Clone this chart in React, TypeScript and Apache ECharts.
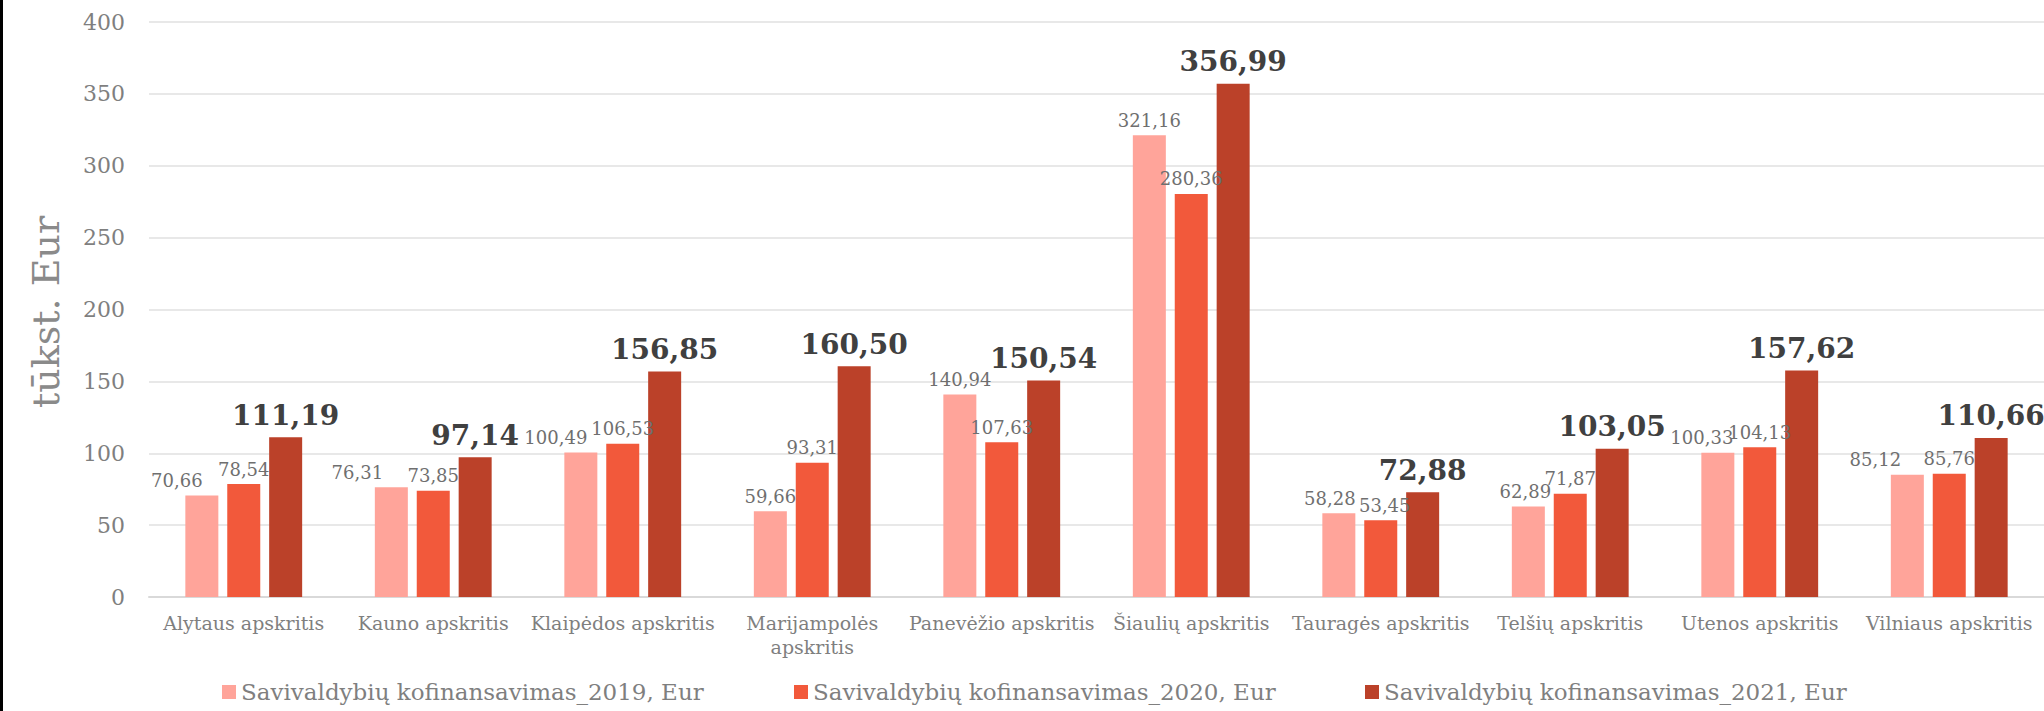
import React, { useEffect, useRef } from "react";
import * as echarts from "echarts";

const CATEGORIES = [
  "Alytaus apskritis",
  "Kauno apskritis",
  "Klaipėdos apskritis",
  "Marijampolės apskritis",
  "Panevėžio apskritis",
  "Šiaulių apskritis",
  "Tauragės apskritis",
  "Telšių apskritis",
  "Utenos apskritis",
  "Vilniaus apskritis",
];

const SERIES_NAMES = [
  "Savivaldybių kofinansavimas_2019, Eur",
  "Savivaldybių kofinansavimas_2020, Eur",
  "Savivaldybių kofinansavimas_2021, Eur",
];

const VALUES_2019 = [70.66, 76.31, 100.49, 59.66, 140.94, 321.16, 58.28, 62.89, 100.33, 85.12];
const VALUES_2020 = [78.54, 73.85, 106.53, 93.31, 107.63, 280.36, 53.45, 71.87, 104.13, 85.76];
const VALUES_2021 = [111.19, 97.14, 156.85, 160.5, 150.54, 356.99, 72.88, 103.05, 157.62, 110.66];

const Y_TICKS = { min: 0, max: 400, interval: 50 };
const Y_TITLE = "tūkst. Eur";

// label style tweaks (horizontal nudges of some 2019 / 2020 labels, as in the reference)
const LABEL_SHIFT_2019 = [-25, -34, -25, 0, 0, 0, -9, -3, -16, -32];
const LABEL_SHIFT_2020 = [0, 0, 0, 0, 0, 0, 4, 0, 0, 0];

const COLORS = ["#FFA49A", "#F2593B", "#BB4129"];
const FONT = "'DejaVu Serif', Georgia, serif";

const fmt = (v: number) => v.toFixed(2).replace(".", ",");

export default function App() {
  const ref = useRef<HTMLDivElement>(null);

  useEffect(() => {
    if (!ref.current) return;
    const chart = echarts.init(ref.current, null, { renderer: "svg" });

    const smallLabel = {
      show: true,
      position: "top",
      distance: 6,
      fontFamily: FONT,
      fontSize: 18,
      color: "#6f6f6f",
      formatter: (p: any) => fmt(p.value),
    };
    const bigLabel = {
      show: true,
      position: "top",
      distance: 8,
      fontFamily: FONT,
      fontSize: 28,
      fontWeight: "bold",
      color: "#404040",
      formatter: (p: any) => fmt(p.value),
    };

    const legendBase = {
      top: 678,
      padding: 0,
      itemWidth: 14,
      itemHeight: 14,
      icon: "rect",
      itemGap: 0,
      textStyle: { fontFamily: FONT, fontSize: 23, color: "#7f7f7f", lineHeight: 28 },
    };

    chart.setOption({
      animation: false,
      backgroundColor: "#ffffff",
      grid: { left: 149, right: 0, top: 22, bottom: 114, containLabel: false },
      legend: [
        { ...legendBase, left: 222, data: [SERIES_NAMES[0]] },
        { ...legendBase, left: 794, data: [SERIES_NAMES[1]] },
        { ...legendBase, left: 1365, data: [SERIES_NAMES[2]] },
      ],
      xAxis: {
        type: "category",
        data: CATEGORIES,
        axisTick: { show: false },
        axisLine: { lineStyle: { color: "#d9d9d9", width: 2 } },
        axisLabel: {
          interval: 0,
          margin: 14,
          fontFamily: FONT,
          fontSize: 19,
          lineHeight: 24,
          color: "#7f7f7f",
          formatter: (v: string) => (v.length > 20 ? v.replace(" ", "\n") : v),
        },
      },
      yAxis: {
        type: "value",
        min: Y_TICKS.min,
        max: Y_TICKS.max,
        interval: Y_TICKS.interval,
        axisLine: { show: false },
        axisTick: { show: false },
        axisLabel: {
          margin: 24,
          fontFamily: FONT,
          fontSize: 22,
          color: "#7f7f7f",
        },
        splitLine: { lineStyle: { color: "#e0e0e0", width: 1.5 } },
      },
      graphic: [
        {
          type: "rect",
          left: 0,
          top: 0,
          shape: { x: 0, y: 0, width: 3, height: 711 },
          style: { fill: "#000" },
        },
        {
          type: "text",
          x: 46,
          y: 312,
          rotation: Math.PI / 2,
          style: {
            text: Y_TITLE,
            fontFamily: FONT,
            fontSize: 38,
            fill: "#8a8a8a",
            align: "center",
            verticalAlign: "middle",
          },
        },
      ],
      series: [
        {
          name: SERIES_NAMES[0],
          type: "bar",
          barWidth: 33,
          barGap: "27%",
          itemStyle: { color: COLORS[0] },
          label: smallLabel,
          data: VALUES_2019.map((v, i) => ({
            value: v,
            label: { offset: [LABEL_SHIFT_2019[i], 0] },
          })),
        },
        {
          name: SERIES_NAMES[1],
          type: "bar",
          barWidth: 33,
          barGap: "27%",
          itemStyle: { color: COLORS[1] },
          label: smallLabel,
          data: VALUES_2020.map((v, i) => ({
            value: v,
            label: { offset: [LABEL_SHIFT_2020[i], 0] },
          })),
        },
        {
          name: SERIES_NAMES[2],
          type: "bar",
          barWidth: 33,
          barGap: "27%",
          itemStyle: { color: COLORS[2] },
          label: bigLabel,
          data: VALUES_2021,
        },
      ],
    });

    return () => chart.dispose();
  }, []);

  return (
    <div
      ref={ref}
      style={{ position: "fixed", left: 0, top: 0, width: 2044, height: 711, background: "#fff" }}
    />
  );
}
